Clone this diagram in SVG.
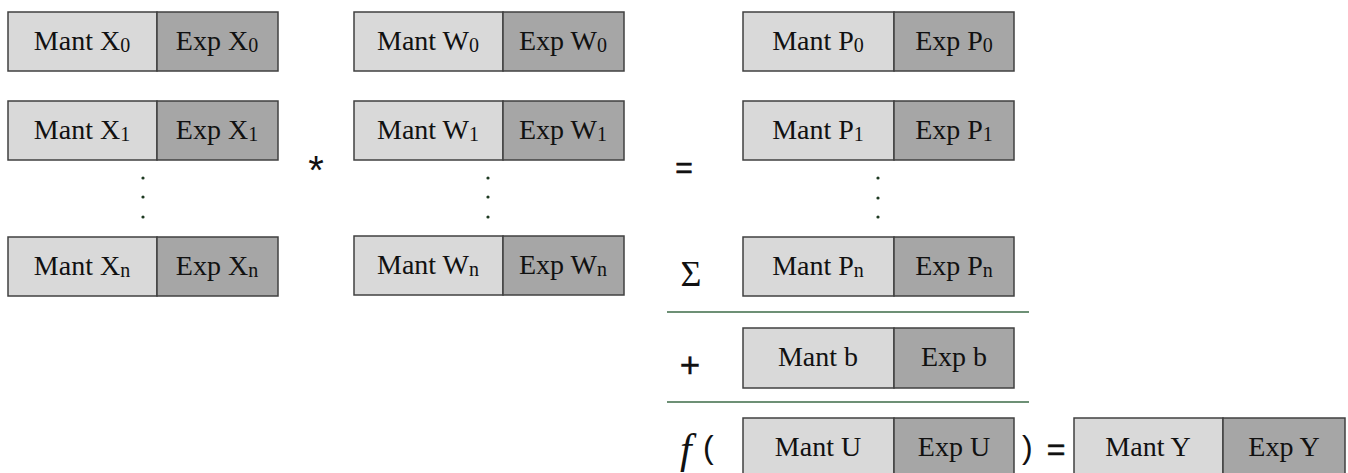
<svg xmlns="http://www.w3.org/2000/svg" width="1348" height="473" viewBox="0 0 1348 473">
<style>
.m{fill:#d9d9d9;stroke:#404040;stroke-width:1.5}
.e{fill:#a6a6a6;stroke:#404040;stroke-width:1.5}
.t{font-family:"Liberation Serif",serif;font-size:28px;fill:#111;text-anchor:middle}
.s{font-size:20px}
.op{font-family:"Liberation Sans",sans-serif;font-size:30px;fill:#111;text-anchor:middle}
.dot{fill:#1e3a22}
.ln{stroke:#3c6b47;stroke-width:1.3}
</style>
<rect width="1348" height="473" fill="#fff"/>
<g id="x0"><rect class="m" x="8" y="12" width="149" height="59"/><rect class="e" x="157" y="12" width="121" height="59"/><text class="t" x="82" y="50">Mant X<tspan class="s" dy="2">0</tspan></text><text class="t" x="217" y="50">Exp X<tspan class="s" dy="2">0</tspan></text></g>
<g id="x1"><rect class="m" x="8" y="101" width="149" height="59"/><rect class="e" x="157" y="101" width="121" height="59"/><text class="t" x="82" y="139">Mant X<tspan class="s" dy="2">1</tspan></text><text class="t" x="217" y="139">Exp X<tspan class="s" dy="2">1</tspan></text></g>
<g id="xn"><rect class="m" x="8" y="237" width="149" height="59"/><rect class="e" x="157" y="237" width="121" height="59"/><text class="t" x="82" y="275">Mant X<tspan class="s" dy="2">n</tspan></text><text class="t" x="217" y="275">Exp X<tspan class="s" dy="2">n</tspan></text></g>
<g id="w0"><rect class="m" x="354" y="12" width="149" height="59"/><rect class="e" x="503" y="12" width="121" height="59"/><text class="t" x="428" y="50">Mant W<tspan class="s" dy="2">0</tspan></text><text class="t" x="563" y="50">Exp W<tspan class="s" dy="2">0</tspan></text></g>
<g id="w1"><rect class="m" x="354" y="101" width="149" height="59"/><rect class="e" x="503" y="101" width="121" height="59"/><text class="t" x="428" y="139">Mant W<tspan class="s" dy="2">1</tspan></text><text class="t" x="563" y="139">Exp W<tspan class="s" dy="2">1</tspan></text></g>
<g id="wn"><rect class="m" x="354" y="236" width="149" height="59"/><rect class="e" x="503" y="236" width="121" height="59"/><text class="t" x="428" y="274">Mant W<tspan class="s" dy="2">n</tspan></text><text class="t" x="563" y="274">Exp W<tspan class="s" dy="2">n</tspan></text></g>
<g id="p0"><rect class="m" x="743" y="12" width="151" height="59"/><rect class="e" x="894" y="12" width="120" height="59"/><text class="t" x="818" y="50">Mant P<tspan class="s" dy="2">0</tspan></text><text class="t" x="954" y="50">Exp P<tspan class="s" dy="2">0</tspan></text></g>
<g id="p1"><rect class="m" x="743" y="101" width="151" height="59"/><rect class="e" x="894" y="101" width="120" height="59"/><text class="t" x="818" y="139">Mant P<tspan class="s" dy="2">1</tspan></text><text class="t" x="954" y="139">Exp P<tspan class="s" dy="2">1</tspan></text></g>
<g id="pn"><rect class="m" x="743" y="237" width="151" height="59"/><rect class="e" x="894" y="237" width="120" height="59"/><text class="t" x="818" y="275">Mant P<tspan class="s" dy="2">n</tspan></text><text class="t" x="954" y="275">Exp P<tspan class="s" dy="2">n</tspan></text></g>
<g id="b"><rect class="m" x="743" y="328" width="151" height="60"/><rect class="e" x="894" y="328" width="120" height="60"/><text class="t" x="818" y="366">Mant b</text><text class="t" x="954" y="366">Exp b</text></g>
<g id="u"><rect class="m" x="743" y="418" width="151" height="60"/><rect class="e" x="894" y="418" width="120" height="60"/><text class="t" x="818" y="456">Mant U</text><text class="t" x="954" y="456">Exp U</text></g>
<g id="y"><rect class="m" x="1074" y="418" width="149" height="60"/><rect class="e" x="1223" y="418" width="122" height="60"/><text class="t" x="1148" y="456">Mant Y</text><text class="t" x="1284" y="456">Exp Y</text></g>
<g id="dots">
<circle class="dot" cx="143" cy="178" r="1.6"/><circle class="dot" cx="143" cy="197" r="1.6"/><circle class="dot" cx="143" cy="217" r="1.6"/>
<circle class="dot" cx="488" cy="178" r="1.6"/><circle class="dot" cx="488" cy="197" r="1.6"/><circle class="dot" cx="488" cy="217" r="1.6"/>
<circle class="dot" cx="878" cy="178" r="1.6"/><circle class="dot" cx="878" cy="198" r="1.6"/><circle class="dot" cx="878" cy="217" r="1.6"/>
</g>
<g id="connectors">
<line class="ln" x1="667" y1="312" x2="1029" y2="312"/>
<line class="ln" x1="667" y1="402" x2="1029" y2="402"/>
</g>
<g id="operators">
<text class="op" x="316" y="184" style="font-size:40px">*</text>
<text class="op" x="684" y="178" style="stroke:#111;stroke-width:0.6">=</text>
<text class="t" x="691" y="286" style="font-size:36px">Σ</text>
<text class="op" x="690" y="377" style="font-size:35px;stroke:#111;stroke-width:0.4">+</text>
<text x="680" y="463" style="font-family:'Liberation Serif',serif;font-style:italic;font-size:42px;fill:#111">f</text>
<text x="703" y="458" style="font-family:'Liberation Sans',sans-serif;font-size:32px;fill:#111">(</text>
<text x="1022" y="458" style="font-family:'Liberation Sans',sans-serif;font-size:32px;fill:#111">)</text>
<text class="op" x="1056" y="460" style="font-size:32px;stroke:#111;stroke-width:0.6">=</text>
</g>
</svg>
